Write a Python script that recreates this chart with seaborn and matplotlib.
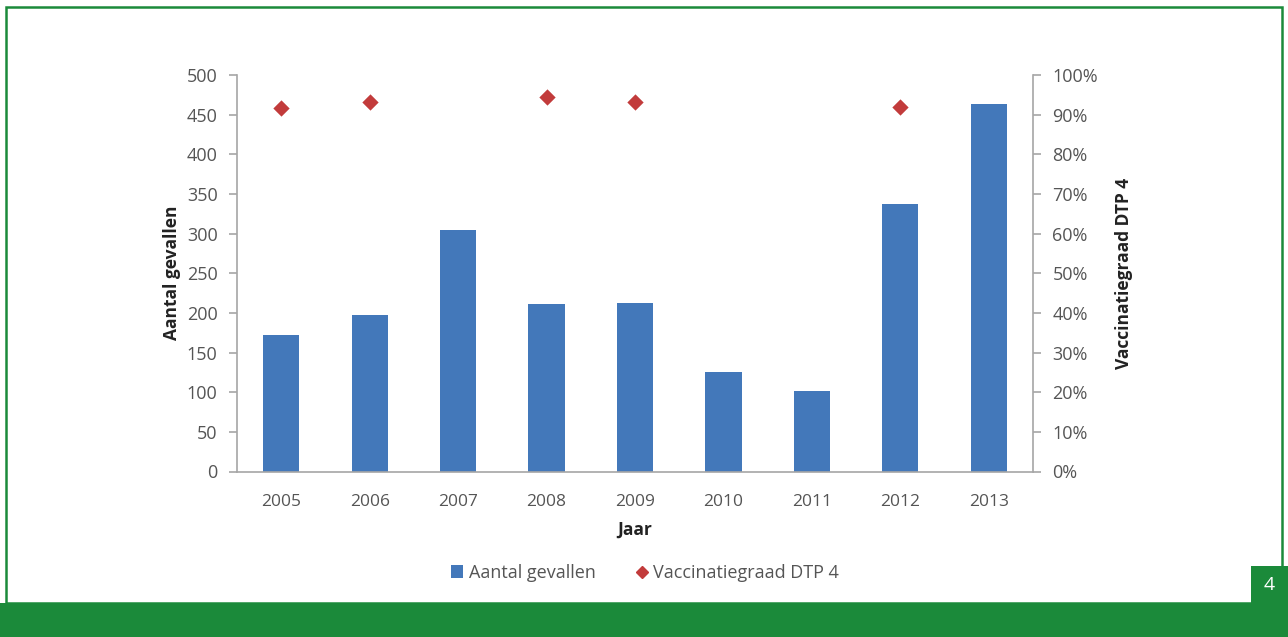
import matplotlib
matplotlib.use("Agg")
import matplotlib.pyplot as plt
import numpy as np
import pandas as pd
import seaborn as sns
from matplotlib.patches import Rectangle, Patch
from matplotlib.lines import Line2D
from matplotlib.ticker import MultipleLocator, FuncFormatter, FixedLocator

# Data
years = ["2005", "2006", "2007", "2008", "2009", "2010", "2011", "2012", "2013"]
cases = [172, 197, 305, 211, 212, 125, 102, 337, 463]
vaccination = [0.916, 0.933, np.nan, 0.945, 0.931, np.nan, np.nan, 0.919, np.nan]

bar_label = "Aantal gevallen"
point_label = "Vaccinatiegraad DTP 4"
x_label = "Jaar"
page_number = "4"

df = pd.DataFrame({"Jaar": years, "Aantal": cases, "Vacc": vaccination})

sns.set_theme(style="white")
plt.rcParams["font.family"] = ["Open Sans", "DejaVu Sans"]

W, H, DPI = 1288, 637, 100
fig = plt.figure(figsize=(W / DPI, H / DPI), dpi=DPI)
fig.patch.set_facecolor("white")

BLUE = "#4378BA"
RED = "#C23B3B"
GREEN = "#1B8A3A"
GRAY_TXT = "#555555"
GRAY_AX = "#A6A6A6"

left, right = 237 / W, 1033 / W
top, bottom = 1 - 75 / H, 1 - 471.5 / H
ax = fig.add_axes([left, bottom, right - left, top - bottom])

sns.barplot(data=df, x="Jaar", y="Aantal", order=years, color=BLUE,
            width=0.41, saturation=1, ax=ax, edgecolor="none")
ax.set_ylim(0, 500)
ax.set_xlim(-0.5, len(years) - 0.5)
ax.yaxis.set_major_locator(MultipleLocator(50))

ax2 = ax.twinx()
sns.stripplot(data=df, x="Jaar", y="Vacc", order=years, jitter=False,
              marker="D", color=RED, size=8.3, linewidth=0, ax=ax2)
ax2.set_ylim(0, 1)
ax2.set_xlim(-0.5, len(years) - 0.5)
ax2.yaxis.set_major_locator(MultipleLocator(0.1))
ax2.yaxis.set_major_formatter(FuncFormatter(lambda v, p: f"{v * 100:.0f}%"))

for a in (ax, ax2):
    a.set_facecolor("none")
    for s in a.spines.values():
        s.set_visible(False)
    a.grid(False)

ax.spines["left"].set_visible(True)
ax.spines["bottom"].set_visible(True)
ax2.spines["right"].set_visible(True)
for s in (ax.spines["left"], ax.spines["bottom"], ax2.spines["right"]):
    s.set_color(GRAY_AX)
    s.set_linewidth(1.2)

# category separators as ticks on the x axis, labels at the centres
ax.xaxis.set_major_locator(FixedLocator(np.arange(len(years))))
ax.xaxis.set_minor_locator(FixedLocator(np.arange(len(years) + 1) - 0.5))
ax.tick_params(axis="x", which="major", length=0, pad=16, labelsize=12.5, labelcolor=GRAY_TXT)
ax.tick_params(axis="x", which="minor", length=6, width=1.2, color=GRAY_AX, direction="out")
ax.tick_params(axis="y", which="major", left=True, length=6, width=1.2, color=GRAY_AX,
               direction="out", pad=8, labelsize=13, labelcolor=GRAY_TXT)
ax2.tick_params(axis="y", which="major", right=True, length=6, width=1.2, color=GRAY_AX,
                direction="out", pad=8, labelsize=13, labelcolor=GRAY_TXT)
ax2.tick_params(axis="x", bottom=False, labelbottom=False)

ax.set_xlabel(x_label, fontsize=12.5, fontweight="bold", color="#222222", labelpad=8)
ax.set_ylabel(bar_label, fontsize=12.5, fontweight="bold", color="#222222", labelpad=4)
ax2.set_ylabel(point_label, fontsize=12.5, fontweight="bold", color="#222222",
               labelpad=12, rotation=90)
if ax2.get_legend() is not None:
    ax2.get_legend().remove()

handles = [
    Patch(facecolor=BLUE, edgecolor="none", label=bar_label),
    Line2D([], [], marker="D", linestyle="none", color=RED, markersize=6.5, label=point_label),
]
fig.legend(handles=handles, loc="center", bbox_to_anchor=(645 / W, 1 - 573 / H),
           ncol=2, frameon=False, fontsize=13, handlelength=0.7, handletextpad=0.3,
           columnspacing=2.2, labelcolor=GRAY_TXT)

# page frame, bottom band and page number box
fig.patches.append(Rectangle((5.5 / W, 1 - 603 / H), (1281.5 - 5.5) / W, (603 - 7) / H,
                             transform=fig.transFigure, fill=False, edgecolor=GREEN,
                             linewidth=1.8, zorder=0))
fig.patches.append(Rectangle((0, 0), 1, (637 - 603) / H, transform=fig.transFigure,
                             facecolor=GREEN, edgecolor="none", zorder=1))
fig.patches.append(Rectangle((1251 / W, 1 - 603 / H), (1288 - 1251) / W, (603 - 566) / H,
                             transform=fig.transFigure, facecolor=GREEN, edgecolor="none",
                             zorder=1))
fig.text(1269.5 / W, 1 - 585 / H, page_number, color="white", fontsize=14,
         ha="center", va="center")

fig.savefig("out.png", dpi=DPI, facecolor="white")
